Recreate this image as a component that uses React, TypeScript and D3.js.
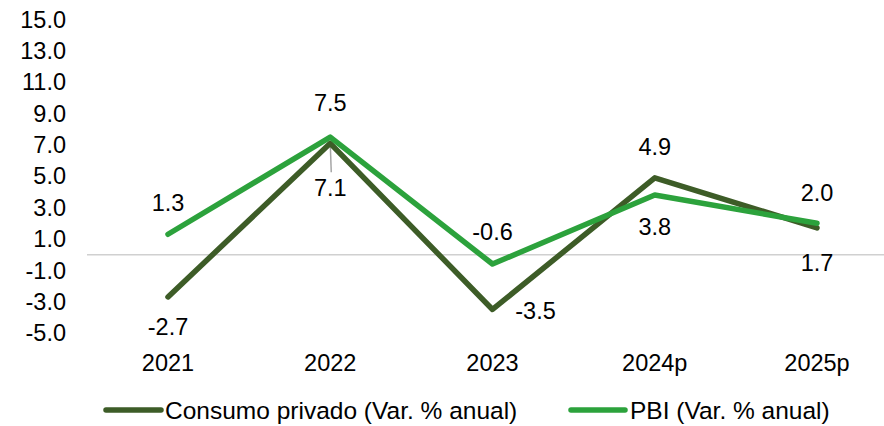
import React from "react";
import * as d3 from "d3";

const years = ["2021", "2022", "2023", "2024p", "2025p"];
const consumo = [-2.7, 7.1, -3.5, 4.9, 1.7];
const pbi = [1.3, 7.5, -0.6, 3.8, 2.0];
const yTicks = [15, 13, 11, 9, 7, 5, 3, 1, -1, -3, -5];

// label placement per point: [dx, dy]
const consumoLbl = [[0, 30], [0, 44], [43, 1], [0, -31], [0, 35]];
const pbiLbl = [[0, -31], [0, -34], [0, -32], [0, 32], [0, -31]];

const W = 884;
const H = 426;
const DARK = "#3d5c27";
const LIGHT = "#2ca23c";
const FONT = "'Liberation Sans', Arial, sans-serif";
const FS = 23.5;
const LEG_FS = 24.5;

export default function App() {
  const x = d3.scalePoint().domain(years).range([168, 817]);
  const y = d3.scaleLinear().domain([-5, 15]).range([333, 19.5]);

  const line = d3
    .line<number>()
    .x((_, i) => x(years[i]) as number)
    .y((d) => y(d));

  return (
    <svg
      width={W}
      height={H}
      style={{ position: "absolute", left: 0, top: 0, background: "#fff" }}
      fontFamily={FONT}
    >
      {yTicks.map((t) => (
        <text key={t} x={66} y={y(t)} dy="0.35em" textAnchor="end" fontSize={FS} fill="#000">
          {t.toFixed(1)}
        </text>
      ))}
      <line x1={87} x2={884} y1={y(0)} y2={y(0)} stroke="#d0d0d0" strokeWidth={1.5} />
      {years.map((yr) => (
        <text key={yr} x={x(yr)} y={363} dy="0.35em" textAnchor="middle" fontSize={FS} fill="#000">
          {yr}
        </text>
      ))}
      {/* leader line for 7.1 */}
      <line
        x1={x(years[1]) as number}
        y1={y(consumo[1])}
        x2={(x(years[1]) as number) + 1}
        y2={y(consumo[1]) + 29}
        stroke="#a6a6a6"
        strokeWidth={1.5}
      />
      <path d={line(consumo) || ""} fill="none" stroke={DARK} strokeWidth={5.5} strokeLinecap="round" strokeLinejoin="round" />
      <path d={line(pbi) || ""} fill="none" stroke={LIGHT} strokeWidth={5.5} strokeLinecap="round" strokeLinejoin="round" />
      {consumo.map((v, i) => (
        <text
          key={"c" + i}
          x={(x(years[i]) as number) + consumoLbl[i][0]}
          y={y(v) + consumoLbl[i][1]}
          dy="0.35em"
          textAnchor="middle"
          fontSize={FS}
          fill="#000"
        >
          {v.toFixed(1)}
        </text>
      ))}
      {pbi.map((v, i) => (
        <text
          key={"p" + i}
          x={(x(years[i]) as number) + pbiLbl[i][0]}
          y={y(v) + pbiLbl[i][1]}
          dy="0.35em"
          textAnchor="middle"
          fontSize={FS}
          fill="#000"
        >
          {v.toFixed(1)}
        </text>
      ))}
      <g transform="translate(0,410)">
        <line x1={106} x2={161} y1={0} y2={0} stroke={DARK} strokeWidth={5.5} strokeLinecap="round" />
        <text x={165} y={0} dy="0.35em" fontSize={LEG_FS} fill="#000">
          Consumo privado (Var. % anual)
        </text>
        <line x1={571} x2={625} y1={0} y2={0} stroke={LIGHT} strokeWidth={5.5} strokeLinecap="round" />
        <text x={630} y={0} dy="0.35em" fontSize={LEG_FS} fill="#000">
          PBI (Var. % anual)
        </text>
      </g>
    </svg>
  );
}
